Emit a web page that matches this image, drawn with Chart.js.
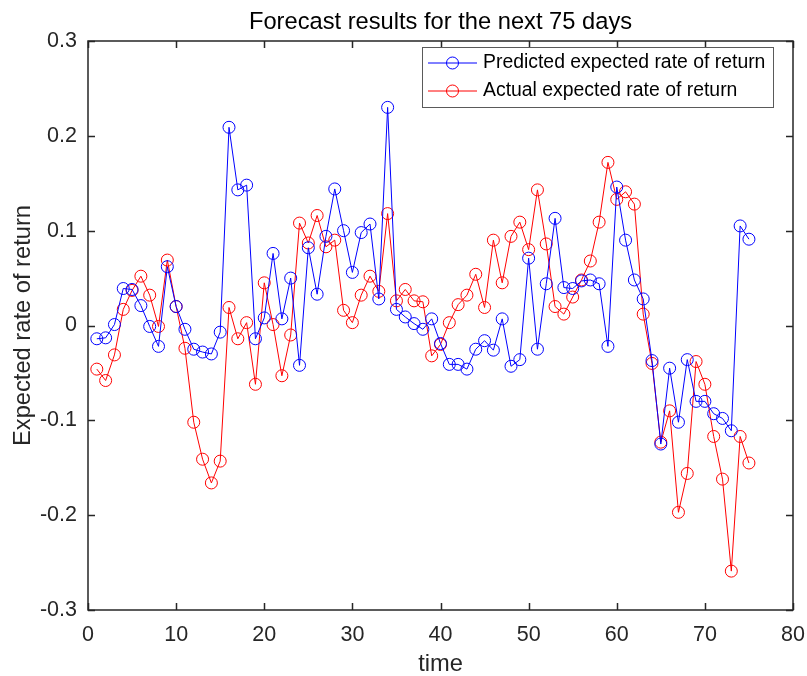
<!DOCTYPE html>
<html>
<head>
<meta charset="utf-8">
<script src="https://cdn.jsdelivr.net/npm/chart.js@4.4.0/dist/chart.umd.min.js"></script>
<style>
  html, body { margin: 0; padding: 0; background: #fff; }
  #box { width: 807px; height: 676px; }
</style>
</head>
<body>
<div id="box"><canvas id="forecastChart" width="807" height="676"></canvas></div>
<script>
//days on the x axis
var days = [1, 2, 3, 4, 5, 6, 7, 8, 9, 10, 11, 12, 13, 14, 15, 16, 17, 18, 19, 20,
    21, 22, 23, 24, 25, 26, 27, 28, 29, 30, 31, 32, 33, 34, 35, 36, 37, 38, 39, 40,
    41, 42, 43, 44, 45, 46, 47, 48, 49, 50, 51, 52, 53, 54, 55, 56, 57, 58, 59, 60,
    61, 62, 63, 64, 65, 66, 67, 68, 69, 70, 71, 72, 73, 74, 75];

//predicted expected rate of return (blue)
var predicted = [-0.014, -0.013, 0.001, 0.039, 0.038, 0.021, -0.001, -0.022, 0.062, 0.020,
    -0.004, -0.025, -0.028, -0.030, -0.007, 0.209, 0.143, 0.148, -0.014, 0.008,
    0.076, 0.007, 0.050, -0.042, 0.082, 0.033, 0.094, 0.144, 0.100, 0.056,
    0.098, 0.107, 0.028, 0.230, 0.017, 0.009, 0.002, -0.004, 0.007, -0.019,
    -0.041, -0.041, -0.046, -0.025, -0.016, -0.026, 0.007, -0.043, -0.036, 0.071,
    -0.025, 0.044, 0.113, 0.040, 0.039, 0.047, 0.048, 0.044, -0.022, 0.146,
    0.090, 0.048, 0.028, -0.037, -0.125, -0.045, -0.102, -0.036, -0.080, -0.080,
    -0.093, -0.098, -0.111, 0.105, 0.091];

//actual expected rate of return (red)
var actual = [-0.046, -0.058, -0.031, 0.017, 0.037, 0.052, 0.032, -0.001, 0.069, 0.020,
    -0.024, -0.102, -0.141, -0.166, -0.143, 0.019, -0.014, 0.003, -0.062, 0.045,
    0.001, -0.053, -0.010, 0.108, 0.087, 0.116, 0.083, 0.090, 0.016, 0.003,
    0.032, 0.052, 0.036, 0.118, 0.026, 0.038, 0.026, 0.025, -0.032, -0.020,
    0.003, 0.022, 0.032, 0.054, 0.019, 0.090, 0.045, 0.094, 0.109, 0.080,
    0.143, 0.086, 0.020, 0.012, 0.030, 0.048, 0.068, 0.109, 0.172, 0.133,
    0.141, 0.128, 0.012, -0.040, -0.123, -0.090, -0.197, -0.156, -0.038, -0.062,
    -0.117, -0.162, -0.259, -0.117, -0.145];

//tick positions
var xTicks = [0, 10, 20, 30, 40, 50, 60, 70, 80];
var yTicks = [-0.3, -0.2, -0.1, 0, 0.1, 0.2, 0.3];

var chartTitle = 'Forecast results for the next 75 days';

var FONT = '"Liberation Sans", Arial, sans-serif';
var AXIS = '#262626';

function toPoints(xs, ys) {
    return xs.map(function(x, i){ return {x: x, y: ys[i]}; });
}

//matlab style box, inward ticks on all four sides, title over the axes, and legend
var matlabBox = {
    id: 'matlabBox',
    afterDraw: function(chart) {
        var ctx = chart.ctx;
        var a = chart.chartArea;
        var xs = chart.scales.x, ys = chart.scales.y;
        var tl = 7;
        ctx.save();
        ctx.strokeStyle = AXIS;
        ctx.lineWidth = 1.5;
        ctx.beginPath();
        xTicks.forEach(function(v){
            var px = Math.round(xs.getPixelForValue(v)) + 0.5;
            ctx.moveTo(px, a.bottom); ctx.lineTo(px, a.bottom - tl);
            ctx.moveTo(px, a.top); ctx.lineTo(px, a.top + tl);
        });
        yTicks.forEach(function(v){
            var py = Math.round(ys.getPixelForValue(v)) + 0.5;
            ctx.moveTo(a.left, py); ctx.lineTo(a.left + tl, py);
            ctx.moveTo(a.right, py); ctx.lineTo(a.right - tl, py);
        });
        ctx.stroke();
        ctx.strokeRect(a.left, a.top, a.right - a.left, a.bottom - a.top);

        //title, centred over the axes box
        ctx.fillStyle = '#000';
        ctx.font = '23.7px ' + FONT;
        ctx.textAlign = 'center';
        ctx.textBaseline = 'alphabetic';
        ctx.fillText(chartTitle, (a.left + a.right) / 2, 29);

        //legend
        var lx = 422, ly = 47, lw = 351, lh = 60;
        ctx.fillStyle = '#fff';
        ctx.fillRect(lx, ly, lw, lh);
        ctx.lineWidth = 1;
        ctx.strokeStyle = '#5a5a5a';
        ctx.strokeRect(lx + 0.5, ly + 0.5, lw, lh);
        chart.data.datasets.forEach(function(ds, i){
            var cy = ly + 16 + i * 28;
            ctx.strokeStyle = ds.borderColor;
            ctx.lineWidth = 1;
            ctx.beginPath();
            ctx.moveTo(428, cy); ctx.lineTo(477, cy);
            ctx.stroke();
            ctx.beginPath();
            ctx.arc(452.5, cy, 6, 0, Math.PI * 2);
            ctx.stroke();
            ctx.fillStyle = '#000';
            ctx.font = '19.4px ' + FONT;
            ctx.textBaseline = 'middle';
            ctx.textAlign = 'left';
            ctx.fillText(ds.label, 483, cy);
        });
        ctx.restore();
    }
}; //end matlabBox

var forecastContext = document.getElementById('forecastChart').getContext('2d');
var forecastChart = new Chart(forecastContext, {
    type: 'line',
    data: {
        datasets: [{
            label: 'Predicted expected rate of return',
            data: toPoints(days, predicted),
            borderColor: '#0000ff',
            borderWidth: 1,
            pointRadius: 6,
            pointBorderWidth: 1,
            pointBackgroundColor: 'rgba(0,0,0,0)',
            pointBorderColor: '#0000ff',
            tension: 0
        }, {
            label: 'Actual expected rate of return',
            data: toPoints(days, actual),
            borderColor: '#ff0000',
            borderWidth: 1,
            pointRadius: 6,
            pointBorderWidth: 1,
            pointBackgroundColor: 'rgba(0,0,0,0)',
            pointBorderColor: '#ff0000',
            tension: 0
        }] //end datasets
    }, //end data
    options: {
        responsive: false,
        animation: false,
        layout: { padding: { left: 0, right: 14, top: 41, bottom: 0 } },
        plugins: {
            legend: { display: false },
            tooltip: { enabled: false },
            title: { display: false }
        },
        scales: {
            x: {
                type: 'linear',
                min: 0,
                max: 80,
                afterBuildTicks: function(s){ s.ticks = xTicks.map(function(v){ return {value: v}; }); },
                afterFit: function(s){ s.height = 66; s.paddingLeft = 0; s.paddingRight = 0; },
                grid: { display: false, drawTicks: false },
                border: { display: false },
                ticks: {
                    color: AXIS,
                    padding: 12,
                    maxRotation: 0,
                    font: { family: FONT, size: 21.5 },
                    callback: function(v){ return String(v); }
                },
                title: {
                    display: true,
                    text: 'time',
                    color: AXIS,
                    font: { family: FONT, size: 23.7 },
                    padding: { top: 0, bottom: -3 }
                }
            },
            y: {
                type: 'linear',
                min: -0.3,
                max: 0.3,
                afterBuildTicks: function(s){ s.ticks = yTicks.map(function(v){ return {value: v}; }); },
                afterFit: function(s){ s.width = 88; },
                grid: { display: false, drawTicks: false },
                border: { display: false },
                ticks: {
                    color: AXIS,
                    padding: 11,
                    font: { family: FONT, size: 21.5 },
                    callback: function(v){ return String(Number(v.toFixed(1))); }
                },
                title: {
                    display: true,
                    text: 'Expected rate of return',
                    color: AXIS,
                    font: { family: FONT, size: 23.7 },
                    padding: { top: 9, bottom: 0 }
                }
            }
        } //end scales
    }, //end options
    plugins: [matlabBox]
}); //end forecastChart var
</script>
</body>
</html>
